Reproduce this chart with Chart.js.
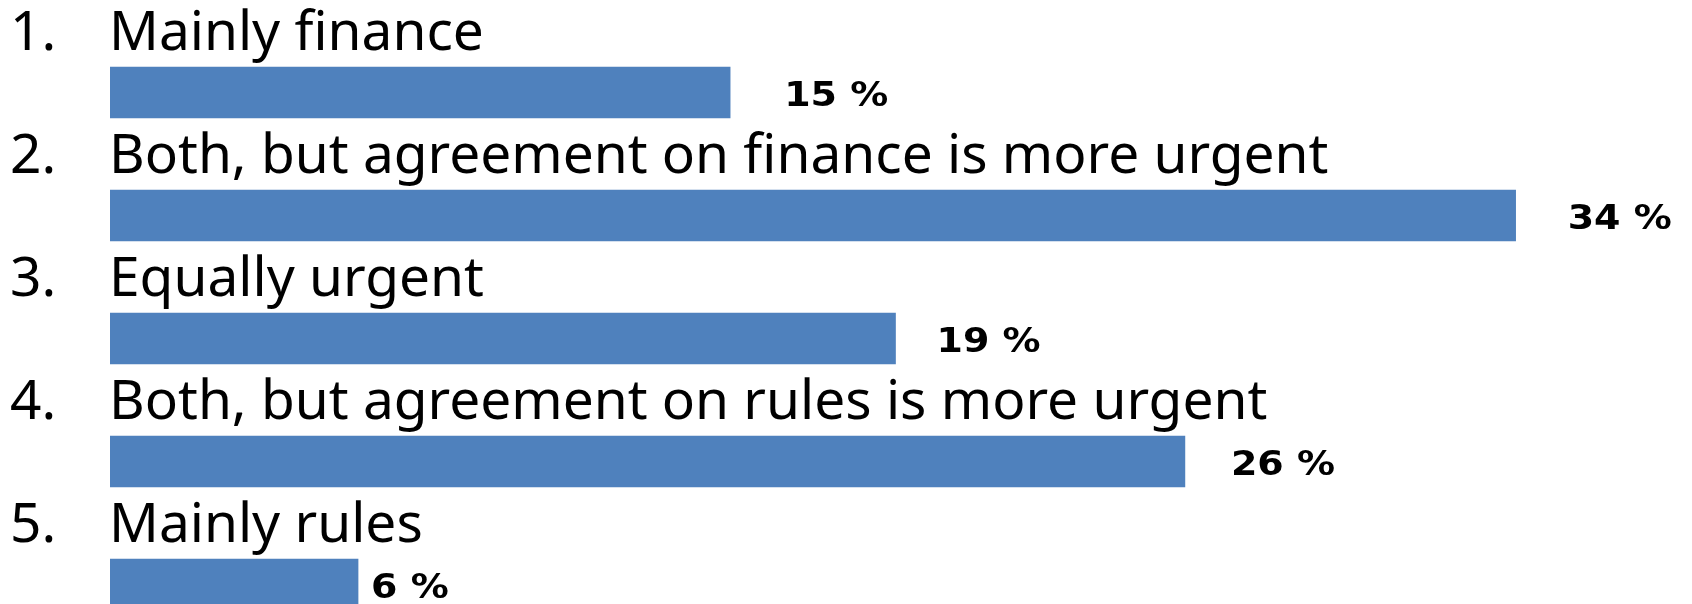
<!DOCTYPE html>
<html>
<head>
<meta charset="utf-8">
<script src="https://cdn.jsdelivr.net/npm/chart.js@4"></script>
<style>
  html, body { margin: 0; padding: 0; background: #ffffff; overflow: hidden; }
  #wrap { position: relative; width: 1692px; height: 646px; }
</style>
</head>
<body>
<div id="wrap"><canvas id="chart"></canvas></div>
<script>
// ---- data ----
const itemNumbers = ["1.", "2.", "3.", "4.", "5."];
const categories = [
  "Mainly finance",
  "Both, but agreement on finance is more urgent",
  "Equally urgent",
  "Both, but agreement on rules is more urgent",
  "Mainly rules"
];
const shares = [15, 34, 19, 26, 6];
const valueLabels = ["15 %", "34 %", "19 %", "26 %", "6 %"];

// ---- styling ----
const BAR_COLOR = "#4F81BD";
const labelGaps = [54, 52, 41, 46, 13]; // distance of value text from bar end (as in the original slide)

const labelsPlugin = {
  id: "slideLabels",
  afterDatasetsDraw(chart) {
    const { ctx } = chart;
    const meta = chart.getDatasetMeta(0);
    ctx.save();
    meta.data.forEach((bar, i) => {
      // category label above the bar
      ctx.fillStyle = "#000000";
      ctx.font = "55px 'Noto Sans'";
      ctx.textBaseline = "alphabetic";
      ctx.textAlign = "left";
      const base = bar.y - 42.5;
      ctx.fillText(itemNumbers[i], 10, base);
      ctx.fillText(categories[i], chart.chartArea.left - 1, base);
      // value label to the right of the bar (wide bold face)
      ctx.save();
      ctx.font = "bold 33px 'DejaVu Sans'";
      ctx.translate(bar.x + labelGaps[i], bar.y + 13.5);
      ctx.scale(1.15, 1);
      ctx.fillText(valueLabels[i], 0, 0);
      ctx.restore();
    });
    ctx.restore();
  }
};

new Chart(document.getElementById("chart"), {
  type: "bar",
  data: {
    labels: categories,
    datasets: [{
      data: shares,
      backgroundColor: BAR_COLOR,
      borderWidth: 0,
      barThickness: 51
    }]
  },
  options: {
    indexAxis: "y",
    responsive: true,
    maintainAspectRatio: false,
    animation: false,
    layout: { padding: { left: 110, right: 11, top: 31, bottom: 0 } },
    plugins: { legend: { display: false }, tooltip: { enabled: false } },
    scales: {
      x: { display: false, min: 0, max: 38 },
      y: { display: false }
    }
  },
  plugins: [labelsPlugin]
});
</script>
</body>
</html>
